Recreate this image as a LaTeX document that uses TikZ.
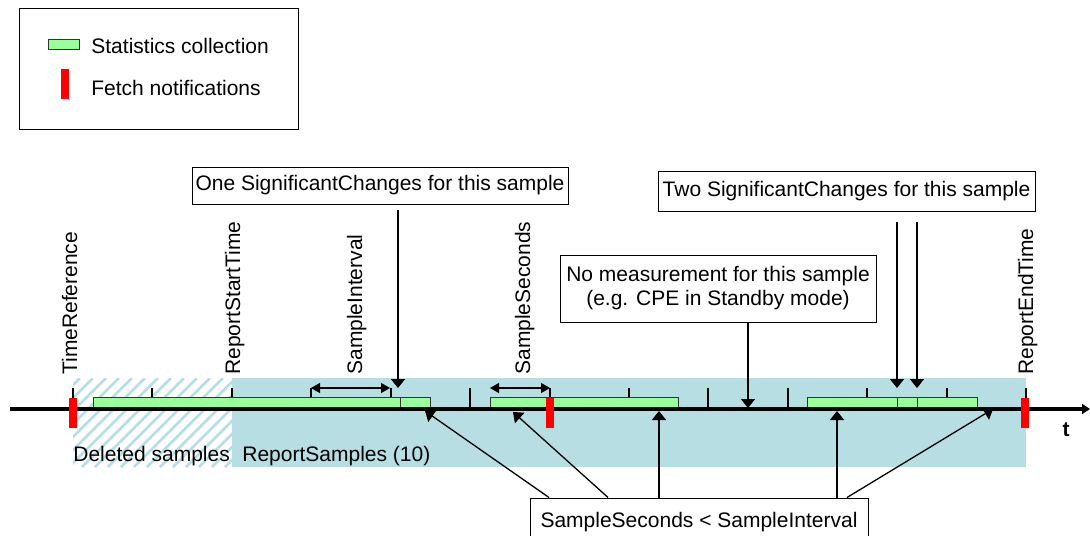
\documentclass[tikz,border=0pt]{standalone}
\usepackage{fontspec}
\setmainfont{Liberation Sans}
\usetikzlibrary{arrows.meta}
\definecolor{repblue}{HTML}{B7DEE2}
\definecolor{statgreen}{HTML}{99FF99}
\definecolor{fetchred}{HTML}{FF0000}

\begin{document}
\begin{tikzpicture}[x=0.5pt,y=-0.5pt,
  font=\fontsize{10.5pt}{12pt}\selectfont,
  box/.style={draw, line width=0.5pt, inner sep=0pt, fill=white, align=center},
  lbl/.style={inner sep=0pt, anchor=west},
  vlbl/.style={inner sep=0pt, rotate=90, anchor=base west},
  conn/.style={line width=0.65pt, -{Triangle[length=4.5pt,width=7pt]}},
  span/.style={line width=0.65pt, {Triangle[length=4.5pt,width=5pt]}-{Triangle[length=4.5pt,width=5pt]}},
  tickmark/.style={line width=1pt},
  stat/.style={draw=black!80, line width=0.5pt, fill=statgreen},
  fetch/.style={fill=fetchred},
  hatch/.style={repblue, line width=1.4pt},
]
\useasboundingbox (0,0) rectangle (1090,535);

% legend
\node[box, minimum width=139.5pt, minimum height=60pt] (legend) at (158.5,69) {};
\draw[stat] (48,40) rectangle (79,50);
\fill[fetch] (61,69) rectangle (69,99);
\node[lbl] (lgstat) at (91,46) {Statistics collection};
\node[lbl] (lgfetch) at (91,88) {Fetch notifications};

% report period and deleted samples
\fill[repblue] (232,378) rectangle (1026,467);
\begin{scope}
  \clip (73,378) rectangle (232,467);
  \foreach \s in {-100,-87,...,240}
    \draw[hatch] (\s,467) -- (\s+89,378);
\end{scope}
\node[lbl] (deleted) at (73,456) {Deleted samples};
\node[lbl] (repsamples) at (242,456) {ReportSamples (10)};

% sample interval ticks
\foreach \k in {0,...,12}
  \draw[tickmark] ({73+\k*79.42},388) -- ({73+\k*79.42},408);

% statistics collection bars
\draw[stat] (93,397) rectangle (400,407);
\draw[stat] (400,397) rectangle (430,407);
\draw[stat] (490,397) rectangle (678,407);
\draw[stat] (807,397) rectangle (897,407);
\draw[stat] (897,397) rectangle (917,407);
\draw[stat] (917,397) rectangle (977,407);

% time axis
\coordinate (axstart) at (10,409);
\coordinate (axend) at (1090,409);
\draw[line width=1.75pt, -{Triangle[length=4pt,width=5pt]}] (axstart) -- (axend);
\node[inner sep=0pt, font=\fontsize{10.5pt}{12pt}\selectfont\bfseries] (tlabel) at (1066,430) {t};

% fetch notifications
\fill[fetch] (69,398) rectangle (77,428);
\fill[fetch] (546,398) rectangle (554,428);
\fill[fetch] (1021,398) rectangle (1029,428);

% vertical labels
\node[vlbl] (timeref) at (77,375) {TimeReference};
\node[vlbl] (repstart) at (240,375) {ReportStartTime};
\node[vlbl] (sinterval) at (362,375) {SampleInterval};
\node[vlbl] (sseconds) at (530,375) {SampleSeconds};
\node[vlbl] (repend) at (1033,375) {ReportEndTime};

% interval spans
\coordinate (siA) at (311,388);
\coordinate (siB) at (390,388);
\draw[span] (siA) -- (siB);
\coordinate (ssA) at (490,388);
\coordinate (ssB) at (550,388);
\draw[span] (ssA) -- (ssB);

% annotation boxes
\node[box, minimum width=188pt, minimum height=18.5pt] (onesc) at (380,185.5)
  {One SignificantChanges for this sample};
\node[box, minimum width=188.5pt, minimum height=20pt] (twosc) at (846.5,191)
  {Two SignificantChanges for this sample};
\node[box, minimum width=158pt, minimum height=33.5pt] (nomeas) at (718,288.5)
  {No measurement for this sample\\(e.g. CPE in Standby mode)};
\node[box, minimum width=169pt, minimum height=24pt] (ssless) at (699,522)
  {SampleSeconds < SampleInterval};

% arrows from the upper boxes
\coordinate (oneS) at (398,210);
\coordinate (oneT) at (398,388);
\draw[conn] (oneS) -- (oneT);
\coordinate (twoS1) at (897,222);
\coordinate (twoT1) at (897,388);
\draw[conn] (twoS1) -- (twoT1);
\coordinate (twoS2) at (917,222);
\coordinate (twoT2) at (917,388);
\draw[conn] (twoS2) -- (twoT2);
\coordinate (nomT) at (748,408);
\draw[conn] (nomeas.south -| nomT) -- (nomT);

% arrows from the lower box
\coordinate (lowT1) at (425,411);
\coordinate (lowT2) at (513,412);
\coordinate (lowT3) at (659,411);
\coordinate (lowT4) at (837,411);
\coordinate (lowT5) at (993,409);
\draw[conn] (ssless.north -| 549,0) -- (lowT1);
\draw[conn] (ssless.north -| 608,0) -- (lowT2);
\draw[conn] (ssless.north -| lowT3) -- (lowT3);
\draw[conn] (ssless.north -| lowT4) -- (lowT4);
\draw[conn] (ssless.north -| 847,0) -- (lowT5);
\end{tikzpicture}
\end{document}
